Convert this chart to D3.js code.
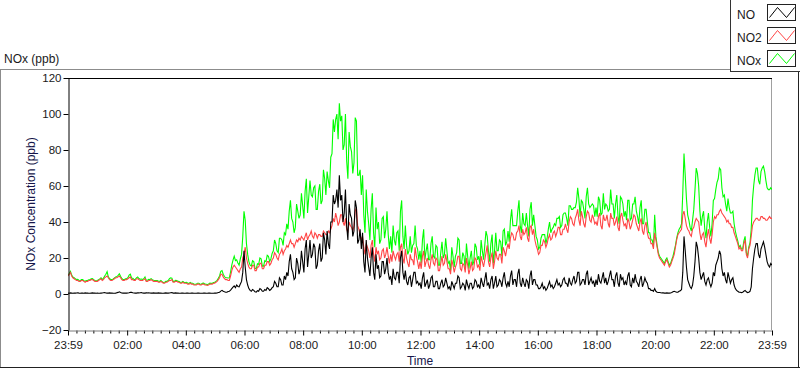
<!DOCTYPE html>
<html>
<head>
<meta charset="utf-8">
<script src="https://cdn.jsdelivr.net/npm/d3@7"></script>
<style>
  html, body { margin: 0; padding: 0; background: #fff; }
  svg { display: block; font-family: "Liberation Sans", Arial, sans-serif; }
</style>
</head>
<body>
<svg id="chart" width="800" height="369"></svg>
<script>
// ---- data: samples every 2.5 minutes starting 23:59 (24 per hour) ----
const seriesNames = ["NO", "NO2", "NOx"];
const stepMinutes = 2.5;

const NO = [
  0.5,0.4,0.6,0.5,0.4,0.5,0.5,0.6,0.7,0.5,0.4,0.5,
  0.5,0.4,0.6,0.5,0.5,0.4,0.4,0.5,0.6,0.5,0.5,0.4,
  0.5,0.4,0.4,0.5,0.6,0.7,0.8,0.6,0.5,0.5,0.6,0.5,
  0.5,0.4,0.4,0.5,0.7,0.9,1.2,0.8,0.6,0.5,0.5,0.5,
  0.5,0.6,0.7,1.0,0.9,0.7,0.6,0.5,0.5,0.6,0.6,0.7,
  0.8,0.6,0.5,0.5,0.6,0.6,0.7,0.6,0.5,0.5,0.6,0.5,
  0.5,0.5,0.6,0.5,0.5,0.4,0.4,0.5,0.6,0.5,0.5,0.6,
  0.7,0.8,0.5,0.5,0.6,0.5,0.5,0.4,0.4,0.5,0.5,0.4,
  0.4,0.5,0.5,0.4,0.4,0.5,0.5,0.4,0.4,0.4,0.5,0.5,
  0.4,0.4,0.4,0.5,0.5,0.4,0.4,0.5,0.5,0.4,0.4,0.4,
  0.5,0.5,0.6,0.8,1.0,1.6,2.0,1.5,1.2,1.0,1.0,1.4,
  1.5,2.2,3.0,3.8,4.5,3.5,5.0,4.2,4.0,5.5,7.0,12,
  24,15,8,5,3,2,1.5,2.5,2,1.2,1,1.8,
  1.5,3,2.5,1.5,1.5,2.5,2,3.5,3,2,2.5,3.5,
  4,7,6,4,4,9,8,5,5,10,8,12,
  10,18,22,14,12,8,9,20,17,11,14,24,
  18,12,25,30,15,22,30,20,22,28,26,14,
  16,24,28,18,20,34,30,22,35,28,25,40,
  40,55,50,52,58,48,66,52,55,40,45,58,
  38,30,50,44,42,32,35,52,48,28,30,36,
  25,34,18,12,30,20,15,10,20,26,12,8,
  22,14,16,9,10,18,18,11,14,20,12,8,
  10,5,14,9,8,12,12,6,20,24,12,8,
  13,7,5,9,10,4,8,12,12,6,7,5,
  6,3,9,12,4,6,8,3,5,9,10,4,
  4,7,7,3,3,6,8,4,5,9,6,3,
  4,2,7,5,3,6,6,10,9,3,4,6,
  5,2,8,5,3,6,6,3,4,8,7,4,
  5,3,9,6,4,8,12,5,6,3,8,10,
  3,6,10,4,5,8,7,4,9,12,6,4,
  7,4,10,13,5,8,8,4,11,14,6,4,
  9,6,4,8,7,3,10,13,5,8,8,5,
  5,3,3,4,6,3,4,2,3,5,7,4,
  5,3,4,6,8,5,6,4,5,8,9,6,
  6,4,9,6,5,8,10,6,7,12,12,5,
  6,8,8,5,11,13,5,7,9,6,7,4,
  8,5,11,7,6,9,12,6,9,5,7,10,
  13,8,8,4,10,12,6,4,11,8,9,5,
  7,5,10,12,5,4,9,6,11,7,6,4,
  8,10,4,6,9,7,6,3,3,2,2,1.5,
  3,1.5,1,0.8,0.8,0.7,0.6,0.6,0.5,0.5,0.6,0.5,
  0.5,0.6,0.8,1.2,1.5,1.2,1.0,1.0,1.5,1.8,2.5,12,
  32,24,15,8,6,4,3,5,10,18,29,26,
  20,12,8,10,12,7,5,8,9,6,4,6,
  12,10,16,18,20,24,22,14,10,12,8,6,
  12,9,6,8,9,5,3,2,1.5,1,1,0.8,
  1,1.5,2,1.2,0.8,1,1.5,4,14,20,25,28,
  28,22,20,25,27,29,26,22,18,16,15,17,16
];

const NO2 = [
  10,11,12,10,9,8.5,8,7.5,7.5,7,7,7.5,
  7.5,7,6.5,7,7,7.5,7.5,8,8,7.5,7,7,
  7,7.5,8,8.5,7.5,8,9,9.5,10,9,8,7.5,
  7.5,8,8.5,9,9,9.5,10,9,8,7.5,7.5,8,
  8,8.5,9,9.5,8,8,7.5,7.5,8.5,8.5,8,7.5,
  7.5,7.5,8,8.5,7,7,7.5,7.5,8,7.5,7,7,
  7,7,6.5,6.5,7,6.5,6,6,6.5,6.5,7,7.5,
  7.5,8,6.5,6.5,7,7,6.5,6.5,6,6,6.5,6,
  6,6,5.5,5.5,6,5.5,5.5,5,5,5,5.5,5.5,
  5,5,5.5,5.5,5,5,4.8,5,5.5,5.5,5.5,6,
  6,6.5,7,8,9,11,11,9.5,8.5,8,8,7.5,
  7.5,10,13,15,16,15,14,13,12,14,15,20,
  22,26,20,17,15,14,14,16,16,13,13,15,
  15,17,17,14,14,16,16,18,18,16,17,19,
  20,23,22,20,19,22,23,25,22,24,25,27,
  26,28,30,28,28,26,28,30,29,31,30,32,
  31,30,32,34,30,32,33,35,32,31,34,33,
  31,33,33,32,32,35,34,33,33,35,34,36,
  38,42,40,45,42,38,40,44,44,40,38,42,
  36,34,40,38,37,35,38,46,48,38,36,33,
  30,32,26,22,28,26,24,20,27,30,22,18,
  26,22,24,19,20,24,25,20,22,26,21,17,
  22,18,24,21,19,22,23,18,26,28,20,17,
  25,20,17,15,22,19,19,16,26,21,18,14,
  18,14,21,24,15,18,20,16,14,19,22,17,
  16,20,19,13,13,17,21,16,17,22,18,14,
  14,11,19,16,12,15,17,21,21,14,13,17,
  16,12,20,16,11,14,18,13,14,20,19,15,
  16,13,21,18,15,19,23,27,18,15,20,23,
  14,18,24,20,19,22,22,17,26,24,21,25,
  28,25,31,34,33,30,30,34,35,38,32,30,
  36,33,34,37,31,29,37,38,33,36,30,27,
  25,22,23,27,27,30,29,26,28,31,33,30,
  31,34,35,32,34,37,37,33,33,36,36,39,
  36,34,40,43,42,39,38,42,44,47,41,38,
  46,43,39,37,43,46,45,41,40,44,42,39,
  40,38,43,45,38,36,44,41,41,44,39,37,
  45,42,42,38,40,43,37,35,43,45,41,38,
  39,36,42,40,36,38,41,44,43,39,37,35,
  40,42,35,33,38,40,34,31,31,28,28,25,
  34,30,26,22,20,19,18,17,16,18,19,17,
  15,16,18,20,22,26,30,33,34,35,36,44,
  46,42,38,36,35,33,32,36,37,40,42,41,
  40,34,30,33,34,29,26,32,36,31,28,33,
  40,43,42,44,44,46,47,45,44,43,42,40,
  41,39,39,37,37,34,32,30,28,25,26,24,
  24,28,30,22,20,25,27,32,38,40,41,42,
  42,41,41,43,43,42,42,41,41,42,43,42,42
];

const NOx = [
  10.5,11.4,12.6,10.5,9.4,9,8.5,8.1,8.2,7.5,7.4,8,
  8,7.4,7.1,7.5,7.5,7.9,7.9,8.5,8.6,8,7.5,7.4,
  7.5,7.9,8.4,9,8.1,8.7,10,11,12.4,9.5,8.6,8,
  8,8.4,8.9,9.5,9.7,10.4,11.2,9.8,8.6,8,8,8.5,
  8.5,9.1,10.5,11,8.9,8.7,8.1,8,9,9.5,8.6,8.2,
  8.3,8.1,8.5,9.5,7.6,7.6,8.2,8.1,8.5,8,7.6,7.5,
  7.5,7.5,7.1,7,7.5,6.9,6.4,6.5,7.1,7,7.5,8.5,
  9,8.8,7,7,7.6,7.5,7,6.9,6.4,6.5,7,6.4,
  6.4,6.5,6,5.9,6.4,6,6,5.4,5.4,5.4,6,6,
  5.4,5.4,5.9,6,5.5,5.4,5.2,5.5,6,5.9,5.9,6.4,
  6.5,7,7.6,8.8,10,12.6,13,11,9.7,9,9,8.9,
  9,12.2,16,18.8,21,18.5,19,17.2,16,19.5,22,32,
  46,41,28,22,18,16,15.5,18.5,18,14.2,14,16.8,
  16.5,20,19.5,15.5,15.5,18.5,18,21.5,21,18,19.5,22.5,
  24,30,28,24,23,31,31,30,27,34,33,39,
  36,46,52,42,40,34,37,50,46,42,44,56,
  49,42,57,64,45,54,63,55,54,59,60,47,
  47,57,61,50,52,69,64,55,68,63,59,76,
  78,97,90,97,100,86,106,96,99,80,83,100,
  74,64,90,82,79,67,73,98,96,66,66,69,
  55,66,44,34,58,46,39,30,47,56,34,26,
  48,36,40,28,30,42,43,31,36,46,33,25,
  32,23,38,30,27,34,35,24,46,52,32,25,
  38,27,22,24,32,23,27,28,38,27,25,19,
  24,17,30,36,19,24,28,19,19,28,32,21,
  20,27,26,16,16,23,29,20,22,31,24,17,
  18,13,26,21,15,21,23,31,30,17,17,23,
  21,14,28,21,14,20,24,16,18,28,26,19,
  21,16,30,24,19,27,35,32,24,18,28,33,
  17,24,34,24,24,30,29,21,35,36,27,29,
  35,29,41,47,38,38,38,38,46,52,38,34,
  45,39,38,45,38,32,47,51,38,44,38,32,
  30,25,26,31,33,33,33,28,31,36,40,34,
  36,37,39,38,42,42,43,37,38,44,45,45,
  42,38,49,49,47,47,48,48,51,59,53,43,
  52,51,47,42,54,59,50,48,49,50,49,43,
  48,43,54,52,44,45,56,47,50,49,46,47,
  58,50,50,42,50,55,43,39,54,53,50,43,
  46,41,52,52,41,42,50,50,54,46,43,39,
  48,52,39,39,47,47,40,34,34,30,30,26.5,
  44,32,27,23,21,20,19,18,17,19,20,18,
  16,17,19,21,24,27,31,34,36,37,39,56,
  78,66,53,44,41,37,35,41,47,58,70,67,
  60,46,38,43,46,36,31,40,45,37,32,39,
  52,53,58,62,64,70,69,59,54,55,50,46,
  53,48,45,45,46,39,35,32,29.5,26,27,25,
  25,29.5,32,23,21,26,28.5,36,52,60,66,70,
  70,63,61,68,70,71,68,63,59,58,58,59,58
];

const xTickMinutes = [0,121,241,361,481,601,721,841,961,1081,1201,1321,1440];
const xTickLabels = ["23:59","02:00","04:00","06:00","08:00","10:00","12:00","14:00","16:00","18:00","20:00","22:00","23:59"];
const yTicks = [-20,0,20,40,60,80,100,120];

// ---- layout ----
const svg = d3.select("#chart");
const plot = { left: 68, right: 772, top: 78, bottom: 330 };
const colors = { NO: "#000000", NO2: "#ff4545", NOx: "#00ff00" };
const textColor = "#1a1a1a";
const titleColor = "#16164a";
const fontFam = "'Liberation Sans', Arial, sans-serif";

const x = d3.scaleLinear().domain([0, 1440]).range([plot.left, plot.right]);
const y = d3.scaleLinear().domain([-20, 120]).range([plot.bottom, plot.top]);

// outer frame
svg.append("rect").attr("x",0).attr("y",0).attr("width",800).attr("height",369).attr("fill","#fff");
svg.append("line").attr("x1",0).attr("x2",730).attr("y1",69.5).attr("y2",69.5).attr("stroke","#8c8c8c");
svg.append("line").attr("x1",0.5).attr("x2",0.5).attr("y1",69.5).attr("y2",368).attr("stroke","#8c8c8c");
svg.append("line").attr("x1",0).attr("x2",800).attr("y1",367.5).attr("y2",367.5).attr("stroke","#222");
svg.append("line").attr("x1",798.5).attr("x2",798.5).attr("y1",71).attr("y2",368).attr("stroke","#222");

// title
svg.append("text").attr("x",4).attr("y",63).attr("font-size",12).attr("fill",textColor).text("NOx (ppb)");

// plot box right edge
svg.append("line").attr("x1",plot.right-0.5).attr("x2",plot.right-0.5).attr("y1",plot.top).attr("y2",plot.bottom).attr("stroke","#a0a0a0");

// clip
svg.append("clipPath").attr("id","clip").append("rect")
  .attr("x",plot.left).attr("y",plot.top).attr("width",plot.right-plot.left).attr("height",plot.bottom-plot.top);

const g = svg.append("g").attr("clip-path","url(#clip)");
const dataSets = { NO: NO, NO2: NO2, NOx: NOx };
["NOx","NO2","NO"].forEach(name => {
  const line = d3.line()
    .x((d,i) => x(i*stepMinutes))
    .y(d => y(d))
    .curve(d3.curveLinear);
  g.append("path").datum(dataSets[name])
    .attr("fill","none").attr("stroke",colors[name]).attr("stroke-width",1.1)
    .attr("stroke-linejoin","miter").attr("d",line);
});

// y axis
const yAxis = d3.axisLeft(y).tickValues(yTicks).tickSize(5).tickPadding(2).tickSizeOuter(0);
const ya = svg.append("g").attr("transform",`translate(${plot.left+0.5},0)`).call(yAxis);
ya.select(".domain").attr("stroke","#000");
ya.selectAll(".tick line").attr("stroke","#000");
ya.selectAll("text").attr("font-size",11.5).attr("fill",textColor).attr("font-family",fontFam);

// top border
svg.append("line").attr("x1",plot.left).attr("x2",plot.right).attr("y1",plot.top+0.5).attr("y2",plot.top+0.5).attr("stroke","#000");

// x axis: minor ticks
const minor = [];
for (let k = 0; k < xTickMinutes.length-1; k++) {
  const a = xTickMinutes[k], b = xTickMinutes[k+1];
  for (let j = 1; j < 7; j++) minor.push(a + (b-a)*j/7);
}
const xMinor = d3.axisBottom(x).tickValues(minor).tickSize(3).tickFormat("").tickSizeOuter(0);
const xm = svg.append("g").attr("transform",`translate(0,${plot.bottom+0.5})`).call(xMinor);
xm.select(".domain").remove();
xm.selectAll(".tick line").attr("stroke","#000");

const xAxis = d3.axisBottom(x).tickValues(xTickMinutes).tickSize(5).tickPadding(5)
  .tickFormat((d,i) => xTickLabels[i]).tickSizeOuter(0);
const xa = svg.append("g").attr("transform",`translate(0,${plot.bottom+0.5})`).call(xAxis);
xa.select(".domain").attr("stroke","#7a7a7a");
xa.selectAll(".tick line").attr("stroke","#000");
xa.selectAll("text").attr("font-size",11.5).attr("fill",textColor).attr("font-family",fontFam);

// axis titles
svg.append("text").attr("x",(plot.left+plot.right)/2).attr("y",365).attr("text-anchor","middle")
  .attr("font-size",12).attr("fill",titleColor).text("Time");
svg.append("text").attr("transform",`translate(35,${(plot.top+plot.bottom)/2}) rotate(-90)`)
  .attr("text-anchor","middle").attr("font-size",12).attr("fill",titleColor).text("NOx Concentration (ppb)");

// legend
const lg = svg.append("g");
lg.append("rect").attr("x",730.5).attr("y",-1).attr("width",72).attr("height",72.5)
  .attr("fill","#fff").attr("stroke","#333");
seriesNames.forEach((name,i) => {
  const yy = 4.5 + i*23;
  lg.append("text").attr("x",737).attr("y",yy+14).attr("font-size",12).attr("fill",textColor).text(name);
  lg.append("rect").attr("x",767.5).attr("y",yy).attr("width",28).attr("height",16)
    .attr("fill","#fff").attr("stroke","#222");
  const pts = [[2,13],[10,3],[19,13],[27,3]].map(p => [767.5+p[0], yy+p[1]]);
  lg.append("path").attr("d", d3.line()(pts)).attr("fill","none").attr("stroke",colors[name]).attr("stroke-width",1);
});

if (NO.length !== 577 || NO2.length !== 577 || NOx.length !== 577) {
  throw new Error("length mismatch: " + NO.length + " " + NO2.length + " " + NOx.length);
}
</script>
</body>
</html>
